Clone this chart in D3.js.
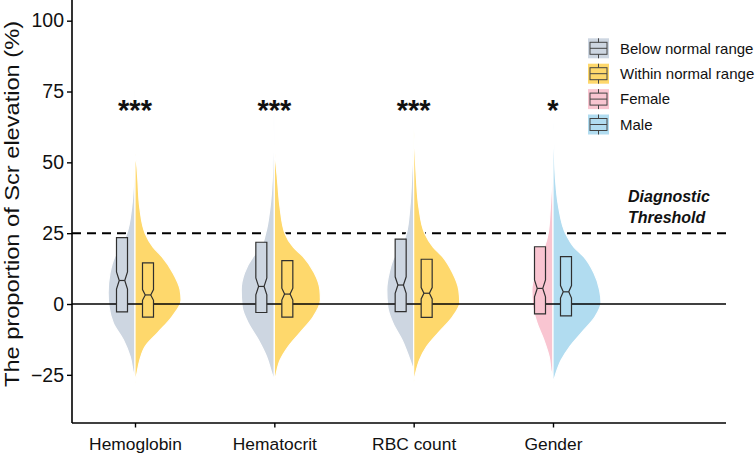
<!DOCTYPE html>
<html><head><meta charset="utf-8">
<script src="https://cdn.jsdelivr.net/npm/d3@7"></script>
<style>
body{margin:0;background:#fff}
svg{display:block}
text{font-family:"Liberation Sans",Arial,Helvetica,sans-serif;fill:#111}
</style>
</head><body>
<svg id="chart" width="756" height="457"></svg>
<script>
// ---------------- data ----------------
const categories = ["Hemoglobin", "Hematocrit", "RBC count", "Gender"];
const legendLabels = ["Below normal range", "Within normal range", "Female", "Male"];
const seriesColors = ["#cdd6e1", "#fed86c", "#f9c5d1", "#b1dcf0"];
// for each category: [left group index, right group index] into legendLabels
const leftGroup = [0, 0, 0, 2];
const rightGroup = [1, 1, 1, 3];
const significance = ["***", "***", "***", "*"];
const yTicks = [-25, 0, 25, 50, 75, 100];
const thresholdValue = 25;
const thresholdLabel = ["Diagnostic", "Threshold"];
const yTitle = "The proportion of Scr elevation (%)";

// violin density profiles: [value (%), relative density]
const densityHemoglobinBelow = [[76,0],[70,0.01],[60,0.012],[50,0.02],[45,0.025],[34,0.07],[25,0.17],[20,0.31],[16.7,0.42],[11,0.52],[4,0.56],[-1,0.54],[-6.8,0.45],[-12.7,0.24],[-18.6,0.10],[-24.5,0.03],[-26.5,0]];
const densityHemoglobinWithin = [[53,0],[50,0.03],[45,0.055],[34,0.10],[25,0.21],[20,0.38],[16.7,0.56],[11,0.79],[5,0.94],[1.4,0.96],[-4.5,0.77],[-10,0.48],[-15,0.21],[-19.8,0.10],[-24.5,0.04],[-28,0]];
const densityHematocritBelow = [[80,0],[64,0.01],[50,0.03],[45,0.04],[34,0.09],[25,0.18],[20,0.28],[16.7,0.44],[11,0.62],[5,0.69],[-1,0.67],[-6.8,0.54],[-12.7,0.33],[-18.6,0.16],[-24.5,0.05],[-27,0]];
const densityHematocritWithin = [[56,0],[50,0.03],[45,0.06],[34,0.12],[25,0.22],[20,0.40],[16.7,0.60],[11,0.83],[5,0.95],[1.4,0.96],[-4.5,0.81],[-10,0.54],[-15,0.29],[-19.8,0.12],[-24.5,0.04],[-28,0]];
const densityRbcBelow = [[64,0],[55,0.012],[45,0.04],[34,0.08],[25,0.15],[20,0.27],[16.7,0.40],[11,0.51],[5,0.56],[-1,0.54],[-6.8,0.43],[-12.7,0.24],[-18.6,0.10],[-23.5,0]];
const densityRbcWithin = [[63,0],[55,0.025],[45,0.055],[34,0.11],[25,0.23],[20,0.41],[16.7,0.60],[11,0.81],[5,0.94],[0.5,0.96],[-4.5,0.81],[-10,0.52],[-15,0.27],[-19.8,0.12],[-24.5,0.04],[-28,0]];
const densityFemale = [[55,0],[45,0.02],[34,0.056],[25,0.10],[20,0.18],[16.7,0.26],[11,0.37],[5,0.44],[-1,0.42],[-6.8,0.33],[-12.7,0.19],[-18.6,0.08],[-24.5,0.027],[-26,0]];
const densityMale = [[64,0],[55,0.025],[45,0.048],[34,0.12],[25,0.26],[20,0.44],[16.7,0.64],[11,0.85],[5,0.97],[0.5,1.0],[-4.5,0.875],[-10,0.60],[-15,0.35],[-19.8,0.17],[-24.5,0.06],[-28,0]];
const leftDensities = [densityHemoglobinBelow, densityHematocritBelow, densityRbcBelow, densityFemale];
const rightDensities = [densityHemoglobinWithin, densityHematocritWithin, densityRbcWithin, densityMale];

// notched boxes, per category [left, right]
const boxLowerLeft   = [-2.8, -3.0, -2.7, -3.5];
const boxMedianLeft  = [ 8.3,  6.2,  6.7,  5.5];
const boxUpperLeft   = [23.4, 21.8, 22.9, 20.2];
const notchLeft      = [ 3.0,  3.0,  2.9,  3.0];
const boxLowerRight  = [-4.6, -4.6, -4.7, -4.2];
const boxMedianRight = [ 3.2,  3.5,  3.8,  4.3];
const boxUpperRight  = [14.5, 15.3, 15.8, 16.7];
const notchRight     = [ 1.9,  2.1,  2.0,  2.2];

// ---------------- layout ----------------
const svg = d3.select("#chart");
const panel = {left: 72, right: 726, top: 0, bottom: 423};
const x = d3.scalePoint().domain(categories).range([135, 553]);
const y = d3.scaleLinear().domain([-42, 107.3]).range([panel.bottom, panel.top]);
const w = d3.scaleLinear().domain([0, 1]).range([0, 48]);
const boxOffset = 13, boxWidth = 11;

// reference lines
svg.append("line").attr("x1", panel.left).attr("x2", panel.right)
  .attr("y1", y(thresholdValue)).attr("y2", y(thresholdValue))
  .attr("stroke", "#000").attr("stroke-width", 2).attr("stroke-dasharray", "9,6");

// violins
const areaLeft = (cx) => d3.area().curve(d3.curveMonotoneY)
  .y(d => y(d[0])).x0(cx).x1(d => cx - w(d[1]));
const areaRight = (cx) => d3.area().curve(d3.curveMonotoneY)
  .y(d => y(d[0])).x0(cx).x1(d => cx + w(d[1]));

categories.forEach((c, i) => {
  const cx = x(c);
  svg.append("path").attr("d", areaLeft(cx)(leftDensities[i]))
    .attr("fill", seriesColors[leftGroup[i]]).attr("stroke", "#fff").attr("stroke-width", 1.2);
  svg.append("path").attr("d", areaRight(cx)(rightDensities[i]))
    .attr("fill", seriesColors[rightGroup[i]]).attr("stroke", "#fff").attr("stroke-width", 1.2);
});

// zero line
svg.append("line").attr("x1", panel.left).attr("x2", panel.right)
  .attr("y1", y(0)).attr("y2", y(0)).attr("stroke", "#000").attr("stroke-width", 1.6);

// notched boxes
function notchBox(cx, lo, med, hi, notch, color) {
  const l = cx - boxWidth / 2, r = cx + boxWidth / 2, ins = boxWidth * 0.25;
  const pts = [
    [l, y(hi)], [r, y(hi)], [r, y(med + notch)], [r - ins, y(med)], [r, y(med - notch)],
    [r, y(lo)], [l, y(lo)], [l, y(med - notch)], [l + ins, y(med)], [l, y(med + notch)]
  ];
  svg.append("path").attr("d", d3.line()(pts) + "Z")
    .attr("fill", color).attr("stroke", "#2f2f2f").attr("stroke-width", 1.2).attr("stroke-linejoin", "miter");
  svg.append("line").attr("x1", l + ins).attr("x2", r - ins).attr("y1", y(med)).attr("y2", y(med))
    .attr("stroke", "#2f2f2f").attr("stroke-width", 1.2);
}
categories.forEach((c, i) => {
  const cx = x(c);
  notchBox(cx - boxOffset, boxLowerLeft[i], boxMedianLeft[i], boxUpperLeft[i], notchLeft[i], seriesColors[leftGroup[i]]);
  notchBox(cx + boxOffset, boxLowerRight[i], boxMedianRight[i], boxUpperRight[i], notchRight[i], seriesColors[rightGroup[i]]);
});

// significance stars
categories.forEach((c, i) => {
  svg.append("text").attr("x", x(c)).attr("y", 120)
    .attr("text-anchor", "middle").attr("font-size", 29).attr("font-weight", "bold")
    .text(significance[i]);
});

// threshold label
thresholdLabel.forEach((t, i) => {
  svg.append("text").attr("x", 628).attr("y", 202 + i * 21)
    .attr("font-size", 16).attr("font-weight", "bold").attr("font-style", "italic").text(t);
});

// axes
const yAxis = svg.append("g").attr("transform", `translate(${panel.left},0)`)
  .call(d3.axisLeft(y).tickValues(yTicks).tickSize(5).tickPadding(3).tickFormat(d3.format("d")));
yAxis.select(".domain").attr("d", `M0,${panel.top}V${panel.bottom}`).attr("stroke-width", 1.6);
yAxis.selectAll(".tick line").attr("stroke-width", 1.4);
yAxis.selectAll(".tick text").attr("font-size", 19.5).attr("fill", "#111")
  .attr("font-family", '"Liberation Sans",Arial,sans-serif');

const xAxis = svg.append("g").attr("transform", `translate(0,${panel.bottom})`)
  .call(d3.axisBottom(x).tickSize(4.5).tickPadding(10));
xAxis.select(".domain").attr("d", `M${panel.left},0H${panel.right}`).attr("stroke-width", 1.6);
xAxis.selectAll(".tick line").attr("stroke-width", 1.4);
xAxis.selectAll(".tick text").attr("font-size", 17.4).attr("fill", "#111")
  .attr("font-family", '"Liberation Sans",Arial,sans-serif');

// y title
svg.append("text").attr("transform", "translate(19,204) rotate(-90)")
  .attr("text-anchor", "middle").attr("font-size", 20)
  .attr("textLength", 366).attr("lengthAdjust", "spacingAndGlyphs").text(yTitle);

// legend
const legend = svg.append("g");
legendLabels.forEach((lab, i) => {
  const cy = 48.3 + i * 25.4, kx = 588, kw = 21, kh = 20;
  const g = legend.append("g");
  g.append("rect").attr("x", kx).attr("y", cy - kh / 2).attr("width", kw).attr("height", kh)
    .attr("fill", seriesColors[i]);
  g.append("line").attr("x1", kx + kw / 2).attr("x2", kx + kw / 2).attr("y1", cy - kh / 2).attr("y2", cy + kh / 2)
    .attr("stroke", "#444").attr("stroke-width", 1);
  g.append("rect").attr("x", kx + 2).attr("y", cy - 6).attr("width", kw - 4).attr("height", 12)
    .attr("fill", seriesColors[i]).attr("stroke", "#444").attr("stroke-width", 1);
  g.append("line").attr("x1", kx + 2).attr("x2", kx + kw - 2).attr("y1", cy).attr("y2", cy)
    .attr("stroke", "#444").attr("stroke-width", 1);
  g.append("text").attr("x", 620).attr("y", cy + 5.2).attr("font-size", 15).text(lab);
});
</script>
</body></html>
